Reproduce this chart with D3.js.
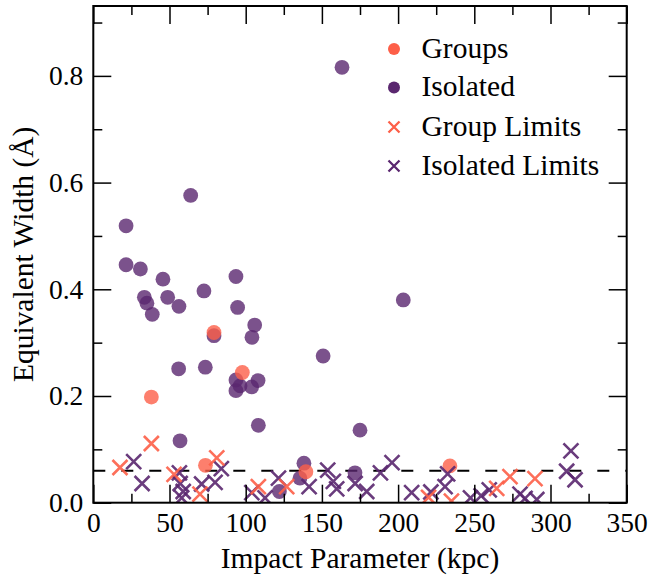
<html>
<head>
<script src="https://d3js.org/d3.v7.min.js"></script>
<style>
	body { margin: 0; background: white; }
	text { font-family: "Liberation Serif", "Times New Roman", serif; fill: black; }
</style>
</head>
<body>
<svg id="chart" width="649" height="577"></svg>
<script>

// Data: [impact parameter (kpc), equivalent width (A)]
var groups = [[79.2,0.319],[97.8,0.244],[38.1,0.198],[73.6,0.070],[139.5,0.058],[234,0.069]];

var isolated = [[21.5,0.519],[63.9,0.576],[21.5,0.446],[30.9,0.438],[45.7,0.419],[93.6,0.424],
	[72.6,0.397],[33.5,0.385],[35.2,0.374],[48.8,0.385],[56.2,0.368],[94.7,0.366],[38.7,0.353],
	[105.9,0.333],[104.1,0.310],[79.2,0.313],[56.0,0.251],[73.5,0.254],[93.6,0.230],[108.1,0.229],
	[96.3,0.219],[103.9,0.217],[93.6,0.210],[108.3,0.145],[56.9,0.116],[138.2,0.074],[135.6,0.046],
	[122.1,0.021],[150.8,0.275],[175.0,0.136],[171.7,0.056],[203.4,0.380],[163.2,0.816]];

var groupLimits = [[17.5,0.066],[38.1,0.111],[53,0.053],[70,0.016],[81,0.084],[108.3,0.030],
	[126.9,0.030],[220,0.010],[235,0.003],[264.7,0.027],[273.4,0.049],[289.8,0.045]];

var isolatedLimits = [[26.5,0.077],[32,0.036],[56.5,0.056],[57,0.036],[59,0.021],[58,0.009],
	[71.1,0.035],[79.9,0.038],[84,0.064],[104,0.019],[112.7,0.009],[121.5,0.046],[141.6,0.030],
	[153.8,0.061],[157.5,0.040],[159.7,0.026],[171.8,0.036],[179.4,0.021],[188.4,0.056],[196,0.075],
	[208.9,0.019],[221.5,0.020],[230.8,0.030],[232.5,0.054],[247.5,0.009],[254.5,0.013],[259.8,0.024],
	[280,0.016],[283.3,0.008],[291,0.006],[310.6,0.059],[313.4,0.097],[316.1,0.043]];

var limitLevel = 0.06;

var xMajor = [0,50,100,150,200,250,300,350];
var xMinor = [25,75,125,175,225,275,325];
var yMajor = [0,0.2,0.4,0.6,0.8];
var yMinor = [0.1,0.3,0.5,0.7,0.9];

var legendLabels = ["Groups", "Isolated", "Group Limits", "Isolated Limits"];

// colours
var orange = "#fd5f48";
var purple = "#5a276f";

// Margins and dimensions
var svg = d3.select("#chart");
var leftEdge = 93.3, rightEdge = 626.7, topEdge = 6, bottomEdge = 502.7;

var x = d3.scaleLinear().domain([0,350]).range([leftEdge,rightEdge]);
var y = d3.scaleLinear().domain([0,0.931]).range([bottomEdge,topEdge]);

svg.append("clipPath").attr("id","plotclip")
	.append("rect")
	.attr("x", leftEdge).attr("y", topEdge)
	.attr("width", rightEdge-leftEdge).attr("height", bottomEdge-topEdge);

var plot = svg.append("g").attr("clip-path","url(#plotclip)");

// Dashed limit line
plot.append("line")
	.attr("x1", x(0)).attr("x2", x(350))
	.attr("y1", y(limitLevel)).attr("y2", y(limitLevel))
	.attr("stroke","black")
	.attr("stroke-width",2)
	.attr("stroke-dasharray","12,16");

// Detections
function dots(data, col) {
	plot.append("g").selectAll("circle")
		.data(data)
		.enter().append("circle")
		.attr("cx", function(d) { return x(d[0]); })
		.attr("cy", function(d) { return y(d[1]); })
		.attr("r", 7.4)
		.style("fill", col)
		.style("opacity", 0.8);
}
dots(isolated, purple);
dots(groups, orange);

// Upper limits
var cross = "M-7.5,-7.5L7.5,7.5M-7.5,7.5L7.5,-7.5";
function crosses(data, col) {
	plot.append("g").selectAll("path")
		.data(data)
		.enter().append("path")
		.attr("d", cross)
		.attr("transform", function(d) { return "translate("+x(d[0])+","+y(d[1])+")"; })
		.style("fill","none")
		.style("stroke", col)
		.style("stroke-width", 2.6)
		.style("opacity", 0.9);
}
crosses(isolatedLimits, purple);
crosses(groupLimits, orange);

// Axes: ticks pointing inwards on all four sides
function styleAxis(g, size) {
	g.select(".domain").remove();
	g.selectAll(".tick line").attr("stroke","black").attr("stroke-width",1.5);
	g.selectAll("text").style("font-size", size).style("font-family",'"Liberation Serif", serif').attr("fill","black");
}

var fmtY = d3.format(".1f");
var tickFont = "27.5px";

svg.append("g").attr("transform","translate(0,"+bottomEdge+")")
	.call(d3.axisBottom(x).tickValues(xMajor).tickSize(-18).tickPadding(10))
	.call(styleAxis, tickFont);
svg.append("g").attr("transform","translate(0,"+bottomEdge+")")
	.call(d3.axisBottom(x).tickValues(xMinor).tickSize(-9).tickFormat(""))
	.call(styleAxis, tickFont);
svg.append("g").attr("transform","translate(0,"+topEdge+")")
	.call(d3.axisTop(x).tickValues(xMajor).tickSize(-18).tickFormat(""))
	.call(styleAxis, tickFont);
svg.append("g").attr("transform","translate(0,"+topEdge+")")
	.call(d3.axisTop(x).tickValues(xMinor).tickSize(-9).tickFormat(""))
	.call(styleAxis, tickFont);

svg.append("g").attr("transform","translate("+leftEdge+",0)")
	.call(d3.axisLeft(y).tickValues(yMajor).tickSize(-18).tickPadding(10).tickFormat(fmtY))
	.call(styleAxis, tickFont);
svg.append("g").attr("transform","translate("+leftEdge+",0)")
	.call(d3.axisLeft(y).tickValues(yMinor).tickSize(-9).tickFormat(""))
	.call(styleAxis, tickFont);
svg.append("g").attr("transform","translate("+rightEdge+",0)")
	.call(d3.axisRight(y).tickValues(yMajor).tickSize(-18).tickFormat(""))
	.call(styleAxis, tickFont);
svg.append("g").attr("transform","translate("+rightEdge+",0)")
	.call(d3.axisRight(y).tickValues(yMinor).tickSize(-9).tickFormat(""))
	.call(styleAxis, tickFont);

// Frame
svg.append("rect")
	.attr("x", leftEdge).attr("y", topEdge)
	.attr("width", rightEdge-leftEdge).attr("height", bottomEdge-topEdge)
	.style("fill","none")
	.style("stroke","black")
	.style("stroke-width",2);

// Axis labels
svg.append("text")
	.attr("x", (leftEdge+rightEdge)/2)
	.attr("y", 568)
	.attr("text-anchor","middle")
	.style("font-size","29.5px")
	.text("Impact Parameter (kpc)");

svg.append("text")
	.attr("transform","translate(33,"+((topEdge+bottomEdge)/2)+") rotate(-90)")
	.attr("text-anchor","middle")
	.style("font-size","29.5px")
	.text("Equivalent Width (\u00C5)");

// Legend
var legendY = [49, 87.5, 127, 166];
var legendKind = ["dot","dot","cross","cross"];
var legendCol = [orange, purple, orange, purple];

var lg = svg.append("g");
for (var i = 0; i < legendLabels.length; i++) {
	if (legendKind[i] == "dot") {
		lg.append("circle")
			.attr("cx", 394).attr("cy", legendY[i]).attr("r", 6)
			.style("fill", legendCol[i]);
	} else {
		lg.append("path")
			.attr("d","M-5.5,-5.5L5.5,5.5M-5.5,5.5L5.5,-5.5")
			.attr("transform","translate(394,"+legendY[i]+")")
			.style("fill","none")
			.style("stroke", legendCol[i])
			.style("stroke-width", 2.3);
	}
	lg.append("text")
		.attr("x", 421.5)
		.attr("y", legendY[i] + 8.5)
		.style("font-size","29.5px")
		.text(legendLabels[i]);
}

</script>
</body>
</html>
